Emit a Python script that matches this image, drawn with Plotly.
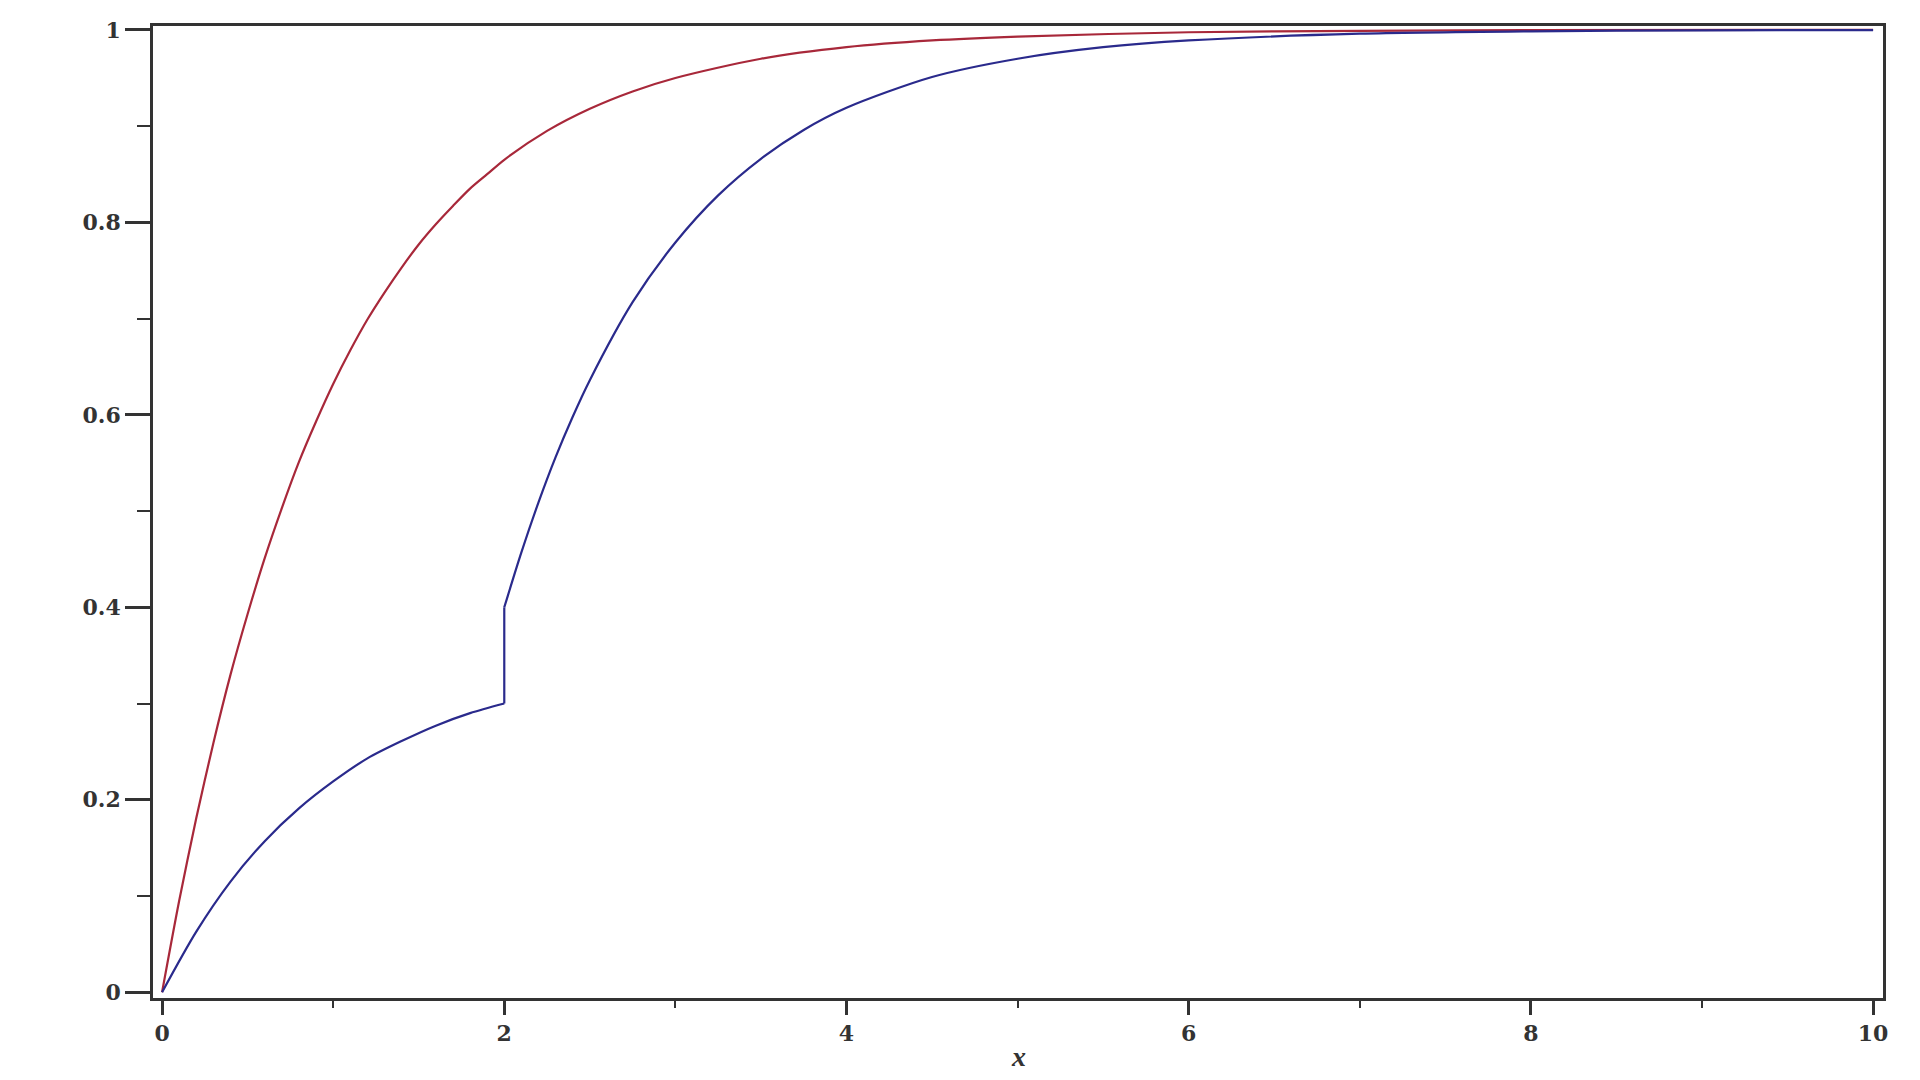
import plotly.graph_objects as go

# red curve
red_x = [0, 0.1, 0.2, 0.3, 0.4, 0.5, 0.6, 0.7, 0.8, 0.9, 1.0, 1.1, 1.2, 1.3, 1.4,
         1.5, 1.6, 1.7, 1.8, 1.9, 2.0, 2.25, 2.5, 2.75, 3.0, 3.5, 4.0, 4.5, 5.0,
         6.0, 7.0, 8.0, 10.0]
red_y = [0, 0.095, 0.181, 0.259, 0.330, 0.393, 0.451, 0.503, 0.551, 0.593, 0.632,
         0.667, 0.699, 0.727, 0.753, 0.777, 0.798, 0.817, 0.835, 0.850, 0.865,
         0.895, 0.918, 0.936, 0.950, 0.970, 0.982, 0.989, 0.993, 0.9975, 0.999,
         0.9997, 1.0]

# blue curve (jump at x = 2)
blue_x = [0, 0.2, 0.4, 0.6, 0.8, 1.0, 1.2, 1.4, 1.6, 1.8, 2.0,
          2.0, 2.1, 2.2, 2.3, 2.4, 2.5, 2.75, 3.0, 3.25, 3.5, 3.75, 4.0, 4.5,
          5.0, 5.5, 6.0, 7.0, 8.0, 9.0, 10.0]
blue_y = [0, 0.063, 0.115, 0.157, 0.191, 0.219, 0.243, 0.261, 0.277, 0.290, 0.300,
          0.400, 0.457, 0.509, 0.556, 0.598, 0.636, 0.717, 0.779, 0.828, 0.866,
          0.896, 0.919, 0.951, 0.970, 0.982, 0.989, 0.996, 0.9985, 0.9995, 0.9998]

x_ticks = [0, 2, 4, 6, 8, 10]
x_labels = ["0", "2", "4", "6", "8", "10"]
y_ticks = [0, 0.2, 0.4, 0.6, 0.8, 1]
y_labels = ["0", "0.2", "0.4", "0.6", "0.8", "1"]

RED = "#a8283a"
BLUE = "#2a2a8c"
AX = "#333333"

fig = go.Figure()
fig.add_trace(go.Scatter(x=red_x, y=red_y, mode="lines",
                         line=dict(color=RED, width=2.2, shape="spline", smoothing=0.8)))
# blue drawn in three pieces so the smooth parts don't bend around the jump
fig.add_trace(go.Scatter(x=blue_x[:11], y=blue_y[:11], mode="lines",
                         line=dict(color=BLUE, width=2.2, shape="spline", smoothing=0.8)))
fig.add_trace(go.Scatter(x=blue_x[10:12], y=blue_y[10:12], mode="lines",
                         line=dict(color=BLUE, width=2.2)))
fig.add_trace(go.Scatter(x=blue_x[11:], y=blue_y[11:], mode="lines",
                         line=dict(color=BLUE, width=2.2, shape="spline", smoothing=0.8)))

axis_font = dict(family="DejaVu Serif", size=22, color=AX, weight="bold")

fig.update_layout(
    width=1920, height=1080,
    margin=dict(l=145, r=45, t=9, b=90),
    paper_bgcolor="white", plot_bgcolor="white",
    showlegend=False,
    font=axis_font,
)
fig.update_xaxes(
    range=[-0.053, 10.058],
    tickvals=x_ticks, ticktext=x_labels,
    ticks="outside", ticklen=14, tickwidth=2.5, tickcolor=AX,
    minor=dict(tickvals=[1, 3, 5, 7, 9], ticks="outside", ticklen=7,
               tickwidth=1.5, tickcolor=AX),
    showline=True, linewidth=2.5, linecolor=AX, mirror=True,
    showgrid=False, zeroline=False, tickfont=axis_font,
)
fig.update_yaxes(
    range=[-0.006, 1.004],
    tickvals=y_ticks, ticktext=y_labels,
    ticks="outside", ticklen=25, tickwidth=2.5, tickcolor=AX,
    minor=dict(tickvals=[0.1, 0.3, 0.5, 0.7, 0.9], ticks="outside", ticklen=13,
               tickwidth=1.5, tickcolor=AX),
    showline=True, linewidth=2.5, linecolor=AX, mirror=True,
    showgrid=False, zeroline=False, tickfont=axis_font,
)
fig.add_annotation(text="<i>x</i>", xref="paper", yref="paper", x=0.5, y=-0.060,
                   showarrow=False, yanchor="middle",
                   font=dict(family="Liberation Serif", size=28, color=AX))

fig.write_html("out.html")
